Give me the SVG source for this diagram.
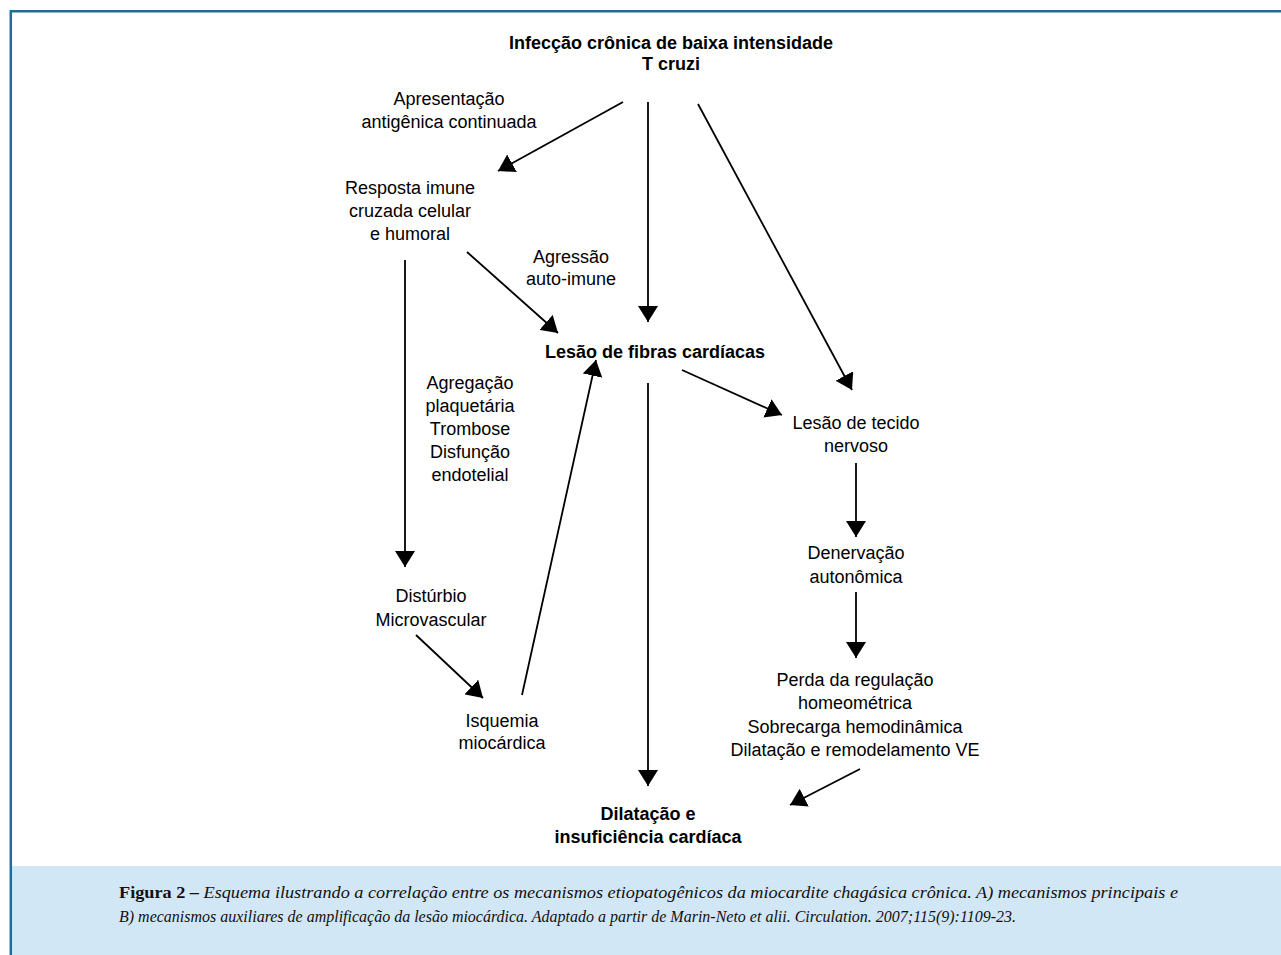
<svg xmlns="http://www.w3.org/2000/svg" width="1281" height="955" viewBox="0 0 1281 955">
<defs>
<style>
.t{font-family:"Liberation Sans",Arial,sans-serif;font-size:18px;fill:#000;text-anchor:middle}
.b{font-weight:bold}
.c{font-family:"Liberation Serif","Times New Roman",serif;font-size:16.5px;fill:#111}
.ln{stroke:#000;stroke-width:1.8;fill:none;marker-end:url(#ah)}
</style>
<marker id="ah" markerUnits="userSpaceOnUse" markerWidth="17" markerHeight="20" refX="16" refY="10" orient="auto" viewBox="0 0 17 20">
<path d="M0,0 L16,10 L0,20 z" fill="#000"/>
</marker>
</defs>
<rect x="0" y="0" width="1281" height="955" fill="#fff"/>
<rect x="12" y="866" width="1269" height="89" fill="#d2e7f6"/>
<path d="M10.8,955 V11.2 H1281" stroke="#1a6f9c" stroke-width="2.5" fill="none"/>

<g id="connectors">
<line class="ln" x1="623" y1="102" x2="498" y2="171"/>
<line class="ln" x1="648" y1="102" x2="648" y2="322"/>
<line class="ln" x1="698" y1="104" x2="852" y2="390"/>
<line class="ln" x1="682" y1="370" x2="782" y2="415"/>
<line class="ln" x1="467" y1="252" x2="558" y2="333"/>
<line class="ln" x1="405" y1="260" x2="405" y2="567"/>
<line class="ln" x1="522" y1="695" x2="596" y2="360"/>
<line class="ln" x1="416" y1="635" x2="483" y2="698"/>
<line class="ln" x1="648" y1="383" x2="648" y2="786"/>
<line class="ln" x1="856" y1="463" x2="856" y2="537"/>
<line class="ln" x1="856" y1="592" x2="856" y2="658"/>
<line class="ln" x1="860" y1="769" x2="790" y2="805"/>
</g>

<g id="n-infeccao"><text class="t b" x="671" y="49">Infecção crônica de baixa intensidade</text><text class="t b" x="671" y="70">T cruzi</text></g>
<g id="n-apresentacao"><text class="t" x="449" y="105">Apresentação</text><text class="t" x="449" y="128">antigênica continuada</text></g>
<g id="n-resposta"><text class="t" x="410" y="194">Resposta imune</text><text class="t" x="410" y="217">cruzada celular</text><text class="t" x="410" y="240">e humoral</text></g>
<g id="n-agressao"><text class="t" x="571" y="263">Agressão</text><text class="t" x="571" y="285">auto-imune</text></g>
<g id="n-lesao-fibras"><text class="t b" x="655" y="358">Lesão de fibras cardíacas</text></g>
<g id="n-agregacao"><text class="t" x="470" y="389">Agregação</text><text class="t" x="470" y="412">plaquetária</text><text class="t" x="470" y="435">Trombose</text><text class="t" x="470" y="458">Disfunção</text><text class="t" x="470" y="481">endotelial</text></g>
<g id="n-disturbio"><text class="t" x="431" y="602">Distúrbio</text><text class="t" x="431" y="626">Microvascular</text></g>
<g id="n-isquemia"><text class="t" x="502" y="727">Isquemia</text><text class="t" x="502" y="749">miocárdica</text></g>
<g id="n-lesao-nervoso"><text class="t" x="856" y="429">Lesão de tecido</text><text class="t" x="856" y="452">nervoso</text></g>
<g id="n-denervacao"><text class="t" x="856" y="559">Denervação</text><text class="t" x="856" y="583">autonômica</text></g>
<g id="n-perda"><text class="t" x="855" y="686">Perda da regulação</text><text class="t" x="855" y="709">homeométrica</text><text class="t" x="855" y="733">Sobrecarga hemodinâmica</text><text class="t" x="855" y="756">Dilatação e remodelamento VE</text></g>
<g id="n-dilatacao"><text class="t b" x="648" y="820">Dilatação e</text><text class="t b" x="648" y="843">insuficiência cardíaca</text></g>

<g id="caption">
<text class="c" x="119" y="898" textLength="1059" lengthAdjust="spacingAndGlyphs"><tspan font-weight="bold">Figura 2 –</tspan><tspan font-style="italic"> Esquema ilustrando a correlação entre os mecanismos etiopatogênicos da miocardite chagásica crônica. A) mecanismos principais e</tspan></text>
<text class="c" x="119" y="922" font-style="italic" textLength="897" lengthAdjust="spacingAndGlyphs">B) mecanismos auxiliares de amplificação da lesão miocárdica. Adaptado a partir de Marin-Neto et alii. Circulation. 2007;115(9):1109-23.</text>
</g>
</svg>
